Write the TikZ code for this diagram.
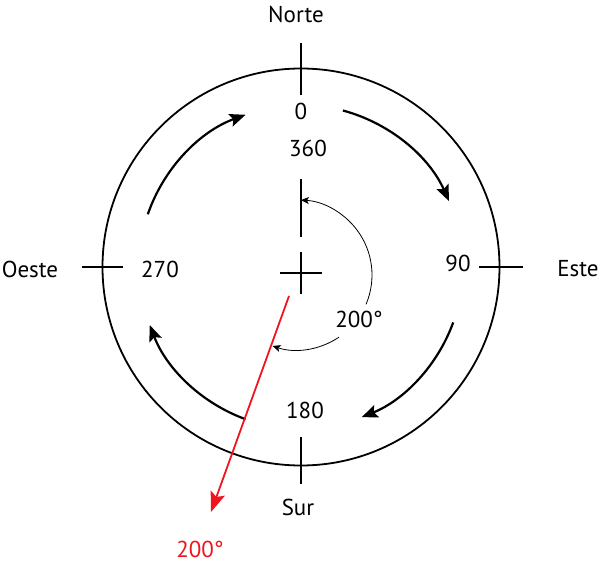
\documentclass[tikz,border=0pt]{standalone}
\usepackage{fontspec}
\setmainfont{PT Sans}
\usepackage{tikz}
\usetikzlibrary{arrows.meta,calc}
\definecolor{bearingred}{RGB}{240,20,30}
\tikzset{
	lbl/.style={inner sep=0pt, font=\fontsize{23}{27}\selectfont},
	tick/.style={line width=1.8pt},
	bigarrow/.style={-{Stealth[length=16pt,width=13pt,inset=3pt]}, line width=2.2pt},
	thinarrow/.style={-{Stealth[length=8pt,width=7pt,inset=2pt]}, line width=0.8pt}
}
\begin{document}
\begin{tikzpicture}[x=1pt,y=1pt]
		\useasboundingbox (-301,-298) rectangle (298,267);
		
		%% -- compass circle
		\coordinate (o) at (0,0);
		\draw[line width=1.8pt] (o) circle (198.5);
		
		%% -- cardinal ticks
		\draw[tick] (0,224) -- (0,172);
		\draw[tick] (0,-170) -- (0,-217);
		\draw[tick] (-219,0) -- (-178,0);
		\draw[tick] (178,0) -- (222,0);
		
		%% -- centre cross and north reference line
		\coordinate (c) at (0,-6);
		\draw[tick] ([xshift=-21pt] c) -- ([xshift=21pt] c);
		\draw[tick] ([yshift=21pt] c) -- ([yshift=-21pt] c);
		\draw[tick] (0,88) -- (0,30);
		
		%% -- direction arcs (clockwise)
		\draw[bigarrow] (75:162) arc[start angle=75, end angle=24, radius=162];
		\draw[bigarrow] (-20:162) arc[start angle=-20, end angle=-68, radius=162];
		\draw[bigarrow] (-110:162) arc[start angle=-110, end angle=-159, radius=162];
		\draw[bigarrow] (161:162) arc[start angle=161, end angle=110, radius=162];
		
		%% -- bearing angle arc
		\coordinate (ac) at (-4,-8);
		\draw[thinarrow] ($(ac)+(-23:75)$) arc[start angle=-23, end angle=87, radius=75];
		\draw[thinarrow] ($(ac)+(-56:75)$) arc[start angle=-56, end angle=-109, radius=75];
		
		%% -- bearing line
		\coordinate (b1) at (-12,-29);
		\coordinate (b2) at (-90,-245);
		\draw[-{Stealth[length=20pt,width=15pt,inset=4pt]}, bearingred, line width=1.8pt] (b1) -- (b2);
		
		%% -- labels
		\node[lbl] (norte) at (-5,253) {Norte};
		\node[lbl] (sur) at (-3,-240) {Sur};
		\node[lbl] (oeste) at (-271,-2) {Oeste};
		\node[lbl] (este) at (277,-2) {Este};
		\node[lbl] (n0) at (0,156) {0};
		\node[lbl] (n360) at (7,119) {360};
		\node[lbl] (n270) at (-141,-2) {270};
		\node[lbl] (n90) at (157,4) {90};
		\node[lbl] (n180) at (4,-143) {180};
		\node[lbl] (ang) at (58,-52) {200°};
		\node[lbl, text=bearingred] (bearing) at (-101,-282) {200°};
		
	\end{tikzpicture}
\end{document}
